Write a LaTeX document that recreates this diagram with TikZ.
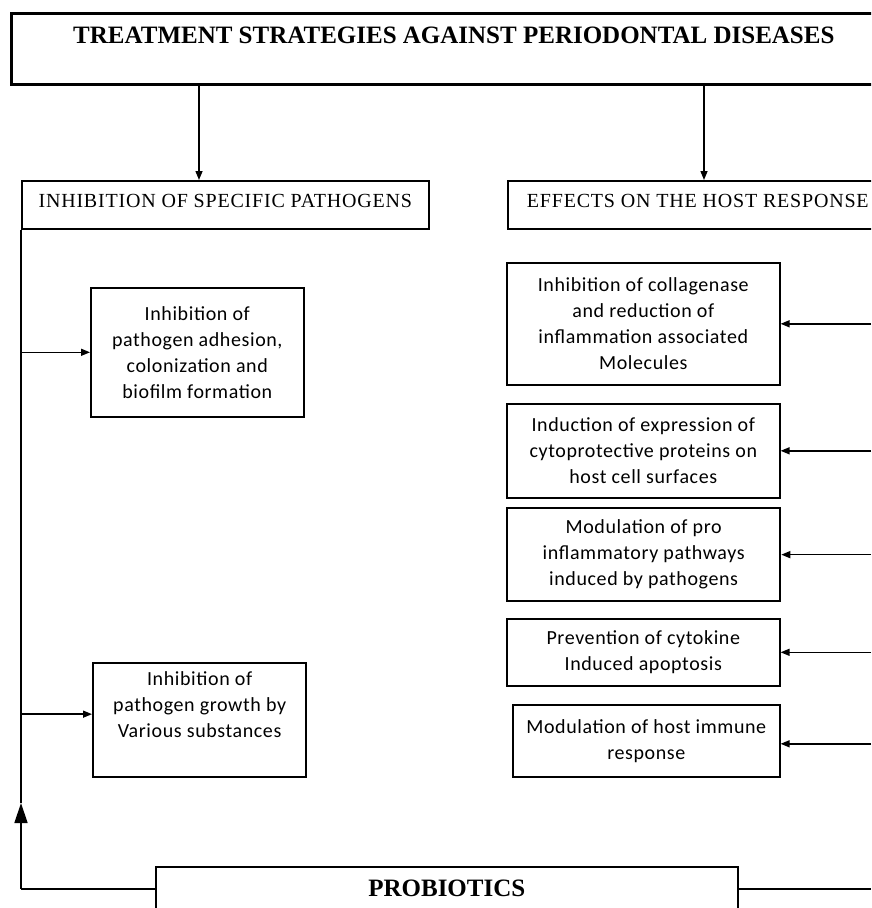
\documentclass[tikz,border=0pt]{standalone}
\usepackage{fontspec}
\setmainfont{Liberation Serif}
\newfontfamily\headserif[LetterSpace=4]{Liberation Serif}
\newfontfamily\boxfont[LetterSpace=3]{Carlito}
\usetikzlibrary{arrows.meta}
\newcommand{\liftup}[1]{\raisebox{4pt}[\height][\depth]{#1}}
\begin{document}
\begin{tikzpicture}[x=1pt,y=-1pt,
  box/.style={draw, line width=1.6pt, inner sep=0pt, align=center,
    font=\boxfont\fontsize{20}{26}\selectfont},
  thickbox/.style={box, line width=2.3pt},
  headbox/.style={draw, line width=1.6pt, inner sep=0pt, align=center,
    font=\headserif\fontsize{20}{22}\selectfont},
  arr/.style={-{Triangle[length=9pt,width=7pt]}, line width=1.4pt},
  conn/.style={line width=1.4pt}]
\useasboundingbox (0,0) rectangle (871,908);
\clip (0,0) rectangle (871,908);

% boxes
\node[draw, line width=2.8pt, inner sep=0pt, align=center, anchor=north west,
  minimum width=885, minimum height=71,
  font=\bfseries\fontsize{25}{27}\selectfont] (top) at (10,12)
  {TREATMENT STRATEGIES AGAINST PERIODONTAL DISEASES\\\mbox{}};

\node[headbox, anchor=north west, minimum width=407, minimum height=48] (ispec) at (21,180)
  {\liftup{INHIBITION OF SPECIFIC PATHOGENS}};
\node[headbox, anchor=north west, minimum width=380, minimum height=48] (eff) at (507,180)
  {\liftup{EFFECTS ON THE HOST RESPONSE}};

\node[box, anchor=north west, minimum width=213, minimum height=129] (b1) at (90,287)
  {Inhibition of\\pathogen adhesion,\\colonization and\\biofilm formation};
\node[thickbox, anchor=north west, minimum width=213, minimum height=114] (b2) at (92,662)
  {Inhibition of\\pathogen growth by\\Various substances\\[6pt]};

\node[box, anchor=north west, minimum width=273, minimum height=122] (r1) at (506,262)
  {Inhibition of collagenase\\and reduction of\\inflammation associated\\Molecules};
\node[box, anchor=north west, minimum width=273, minimum height=94] (r2) at (506,403)
  {Induction of expression of\\cytoprotective proteins on\\host cell surfaces};
\node[thickbox, anchor=north west, minimum width=273, minimum height=93] (r3) at (506,507)
  {Modulation of pro\\inflammatory pathways\\induced by pathogens};
\node[box, anchor=north west, minimum width=273, minimum height=67] (r4) at (506,618)
  {Prevention of cytokine\\Induced apoptosis};
\node[box, anchor=north west, minimum width=267, minimum height=72] (r5) at (512,704)
  {Modulation of host immune\\response};

\node[draw, line width=1.6pt, inner sep=0pt, anchor=north west,
  minimum width=582, minimum height=44,
  font=\bfseries\fontsize{25}{27}\selectfont] (prob) at (155,866) {PROBIOTICS};

% helper coordinates
\coordinate (xa) at (199,0);
\coordinate (xb) at (704,0);
\coordinate (xr) at (871,0);
\coordinate (up) at (21,803);
\coordinate (lc) at (ispec.south west |- prob.west);
\coordinate (b2in) at ([yshift=6pt]b2.west);
\coordinate (r5in) at ([yshift=-3pt]r5.east);

% connectors from the top box
\draw[arr] (top.south -| xa) -- (ispec.north -| xa);
\draw[arr] (top.south -| xb) -- (eff.north -| xb);

% left trunk
\draw[conn] (prob.west) -- (lc);
\draw[-{Triangle[length=20pt,width=13pt]}, line width=1.4pt] (lc) -- (up);
\draw[conn] (up) -- (ispec.south west);
\draw[arr] (ispec.south west |- b1.west) -- (b1.west);
\draw[arr] (ispec.south west |- b2in) -- (b2in);

% right side
\draw[conn] (prob.east) -- (prob.east -| xr);
\draw[arr] (r1.east -| xr) -- (r1.east);
\draw[arr] (r2.east -| xr) -- (r2.east);
\draw[arr] (r3.east -| xr) -- (r3.east);
\draw[arr] (r4.east -| xr) -- (r4.east);
\draw[arr] (r5in -| xr) -- (r5in);
\end{tikzpicture}
\end{document}
